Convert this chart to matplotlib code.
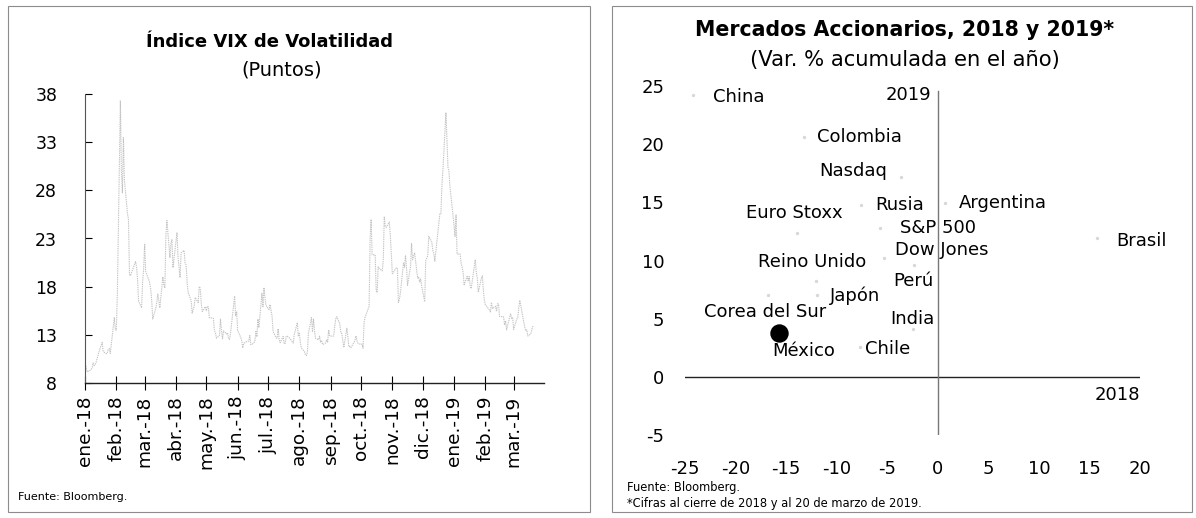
import numpy as np
import pandas as pd
import matplotlib
matplotlib.use("Agg")
import matplotlib.pyplot as plt
from matplotlib.patches import Rectangle

plt.rcParams['font.family'] = ['DejaVu Sans']
plt.rcParams['axes.unicode_minus'] = False

# --- VIX daily closes, ene-2018 .. 20-mar-2019 ---
vix = [
    # ene-18
    9.77, 9.15, 9.22, 9.22, 9.52, 10.08, 9.82, 9.88, 10.16, 11.66, 11.91, 12.22, 11.27, 11.03, 11.10,
    11.47, 11.58, 11.08, 13.84, 14.79, 13.54,
    # feb-18
    13.47, 17.31, 37.32, 29.98, 27.73, 33.46, 29.06, 25.61, 24.97, 19.26, 19.13, 19.46, 20.60, 20.02,
    18.72, 16.49, 15.80, 18.59, 19.85,
    # mar-18
    22.47, 19.59, 18.73, 18.36, 17.76, 16.54, 14.64, 15.78, 16.35, 17.23, 16.59, 15.80, 19.02, 18.20,
    17.86, 23.34, 24.87, 21.03, 22.50, 22.87, 19.97,
    # abr-18
    23.62, 21.10, 20.06, 18.94, 21.49, 21.77, 20.47, 20.24, 18.49, 17.41, 16.56, 15.25, 15.60, 15.96,
    16.88, 16.34, 18.02, 17.84, 16.24, 15.41, 15.93,
    # may-18
    15.49, 15.97, 15.90, 14.77, 14.75, 14.71, 13.42, 13.23, 12.65, 12.93, 14.63, 13.42, 12.59, 13.42,
    13.08, 13.22, 12.58, 12.53, 13.22, 17.02, 14.94, 15.43,
    # jun-18
    13.46, 12.74, 12.40, 11.64, 12.13, 12.18, 12.35, 12.34, 12.94, 11.98, 11.98, 12.31, 13.35, 12.79,
    14.64, 13.77, 17.33, 15.92, 17.91, 16.85, 16.09,
    # jul-18
    15.60, 16.14, 14.97, 13.37, 12.69, 12.64, 13.63, 12.58, 12.18, 12.83, 12.06, 12.10, 12.87, 12.86,
    12.62, 12.41, 12.29, 12.14, 13.03, 14.26, 12.83,
    # ago-18
    13.15, 12.19, 11.64, 11.27, 10.93, 10.85, 11.27, 13.16, 14.78, 13.31, 14.64, 13.45, 12.64, 12.49,
    12.86, 12.25, 12.41, 11.99, 12.16, 12.50, 12.25, 13.53, 12.86,
    # sep-18
    12.88, 13.91, 14.65, 14.88, 14.16, 13.22, 13.14, 12.37, 11.68, 13.68, 12.79, 11.75, 11.80, 11.68,
    12.20, 12.42, 12.89, 12.41, 12.12,
    # oct-18
    12.00, 12.05, 11.61, 14.22, 14.82, 15.69, 15.95, 22.96, 24.98, 21.31, 21.30, 17.62, 17.40, 20.06,
    19.89, 19.64, 20.71, 25.23, 24.22, 24.16, 24.70, 23.35, 21.23,
    # nov-18
    19.34, 19.51, 19.96, 19.91, 16.36, 16.72, 17.36, 20.45, 20.02, 21.25, 19.98, 18.14, 20.10, 22.48,
    20.80, 21.52, 18.90, 19.02, 18.49, 18.79, 18.07,
    # dic-18
    16.44, 20.74, 21.19, 23.23, 22.64, 21.76, 21.46, 20.65, 21.63, 24.52, 25.58, 25.58, 28.38, 30.11,
    36.07, 30.41, 29.96, 28.34, 25.42,
    # ene-19
    23.22, 25.45, 21.38, 21.40, 20.47, 19.98, 19.50, 18.19, 19.07, 18.60, 19.04, 18.06, 17.80, 20.80,
    19.52, 18.89, 17.42, 18.87, 19.13, 17.66, 16.57,
    # feb-19
    16.14, 15.73, 15.57, 15.38, 16.37, 15.72, 15.97, 15.43, 16.22, 16.22, 14.91, 14.88, 14.02, 14.46,
    13.51, 14.85, 15.17, 14.70, 14.78,
    # mar-19
    13.57, 14.63, 14.74, 15.74, 16.59, 16.05, 14.33, 13.77, 13.41, 13.50, 12.88, 13.10, 13.56, 13.91,
]
market_holidays = ['2018-01-15', '2018-02-19', '2018-03-30', '2018-05-28', '2018-07-04',
                   '2018-09-03', '2018-11-22', '2018-12-05', '2018-12-25', '2019-01-01',
                   '2019-01-21', '2019-02-18']
month_labels = ['ene.-18', 'feb.-18', 'mar.-18', 'abr.-18', 'may.-18', 'jun.-18', 'jul.-18',
                'ago.-18', 'sep.-18', 'oct.-18', 'nov.-18', 'dic.-18', 'ene.-19', 'feb.-19',
                'mar.-19']
vix_yticks = [8, 13, 18, 23, 28, 33, 38]

# --- Mercados accionarios: var. % 2018 (x) y 2019 (y) ---
markets = ['China', 'Colombia', 'Nasdaq', 'Rusia', 'Argentina', 'Euro Stoxx', 'S&P 500',
           'Brasil', 'Dow Jones', 'Reino Unido', 'Perú', 'Japón', 'Corea del Sur', 'India',
           'Chile', 'México']
var_2018 = [-24.2, -13.2, -3.6, -7.6, 0.7, -13.9, -5.7, 15.7, -5.3, -12.0, -2.4, -11.9,
            -16.8, -2.5, -7.7, -15.7]
var_2019 = [24.2, 20.6, 17.2, 14.8, 14.9, 12.4, 12.8, 11.9, 10.2, 8.2, 9.6, 7.0, 7.0, 4.1,
            2.6, 3.8]

# label placement (offset in points, horizontal alignment)
label_pos = [(14, -1, 'left'), (9, 0, 'left'), (-10, 4, 'right'), (10, 0, 'left'),
             (10, 0, 'left'), (-2, 14, 'center'), (14, 0, 'left'), (14, -2, 'left'),
             (8, 6, 'left'), (-3, 14, 'center'), (0, -11.5, 'center'), (9, 0, 'left'),
             (-2, -12, 'center'), (0, 7, 'center'), (4, -2, 'left'), (18, -13, 'center')]

fig = plt.figure(figsize=(11.96, 5.18), dpi=100)

# panel frames
for x0, w in [(8, 582), (612, 580)]:
    fig.add_artist(Rectangle((x0 / 1196, 6 / 518), w / 1196, 506 / 518, transform=fig.transFigure,
                             fill=False, edgecolor='#8c8c8c', linewidth=0.8))

# ---------------- left: VIX ----------------
ax1 = fig.add_axes([85 / 1196, 1 - 383 / 518, 459 / 1196, 289 / 518])
dates = pd.bdate_range('2018-01-02', '2019-03-20', freq='C', holidays=market_holidays)
n = min(len(dates), len(vix))
ax1.plot(dates[:n], vix[:n], color='#c4c4c4', linewidth=0.8, linestyle=(0, (1.2, 0.8)))
ax1.set_xlim(pd.Timestamp('2018-01-01'), pd.Timestamp('2019-03-31'))
ax1.set_ylim(8, 38)
ax1.set_yticks(vix_yticks)
ax1.set_yticklabels([str(v) for v in vix_yticks], fontsize=12.5)
month_starts = pd.date_range('2018-01-01', '2019-03-01', freq='MS')
ax1.set_xticks(month_starts)
ax1.set_xticklabels(month_labels, rotation=90, fontsize=13.3)
ax1.tick_params(axis='y', direction='in', length=5, pad=20, width=0.8)
ax1.tick_params(axis='x', direction='inout', length=10, pad=4, width=0.8)
for s in ['top', 'right']:
    ax1.spines[s].set_visible(False)
ax1.spines['left'].set_color('#555555')
ax1.spines['bottom'].set_color('#222222')
ax1.spines['left'].set_linewidth(0.8)
ax1.spines['bottom'].set_linewidth(1.0)

fig.text(270 / 1196, 1 - 42 / 518, 'Índice VIX de Volatilidad', ha='center', va='center',
         fontsize=13, fontweight='bold')
fig.text(282 / 1196, 1 - 70 / 518, '(Puntos)', ha='center', va='center', fontsize=14)
fig.text(18 / 1196, 1 - 497 / 518, 'Fuente: Bloomberg.', ha='left', va='center', fontsize=8)

# ---------------- right: scatter ----------------
ax2 = fig.add_axes([685 / 1196, 1 - 435 / 518, 455 / 1196, 349 / 518])
ax2.set_xlim(-25, 20)
ax2.set_ylim(-5, 25)
ax2.set_xticks(np.arange(-25, 21, 5))
ax2.set_yticks(np.arange(-5, 26, 5))
ax2.tick_params(length=0, labelsize=13)
ax2.tick_params(axis='x', pad=18)
ax2.tick_params(axis='y', pad=15)
for s in ax2.spines.values():
    s.set_visible(False)
ax2.axhline(0, color='#222222', linewidth=1.0)
ax2.axvline(0, ymax=0.985, color='#777777', linewidth=1.0)

for i, name in enumerate(markets):
    if name == 'México':
        ax2.scatter(var_2018[i], var_2019[i], s=150, color='black', zorder=3)
    else:
        ax2.scatter(var_2018[i], var_2019[i], s=2, color='#d8d8d8', zorder=2)
    dx, dy, ha = label_pos[i]
    ax2.annotate(name, (var_2018[i], var_2019[i]), xytext=(dx, dy), textcoords='offset points',
                 ha=ha, va='center', fontsize=13)

ax2.text(-0.6, 24.2, '2019', ha='right', va='center', fontsize=13)
ax2.text(20, -1.6, '2018', ha='right', va='center', fontsize=13)

fig.text(905 / 1196, 1 - 30 / 518, 'Mercados Accionarios, 2018 y 2019*', ha='center',
         va='center', fontsize=14.8, fontweight='bold')
fig.text(905 / 1196, 1 - 60 / 518, '(Var. % acumulada en el año)', ha='center', va='center',
         fontsize=15.2)
fig.text(627 / 1196, 1 - 487 / 518, 'Fuente: Bloomberg.', ha='left', va='center', fontsize=8.3)
fig.text(627 / 1196, 1 - 504 / 518, '*Cifras al cierre de 2018 y al 20 de marzo de 2019.',
         ha='left', va='center', fontsize=8.3)

fig.savefig('out.png', dpi=100)
